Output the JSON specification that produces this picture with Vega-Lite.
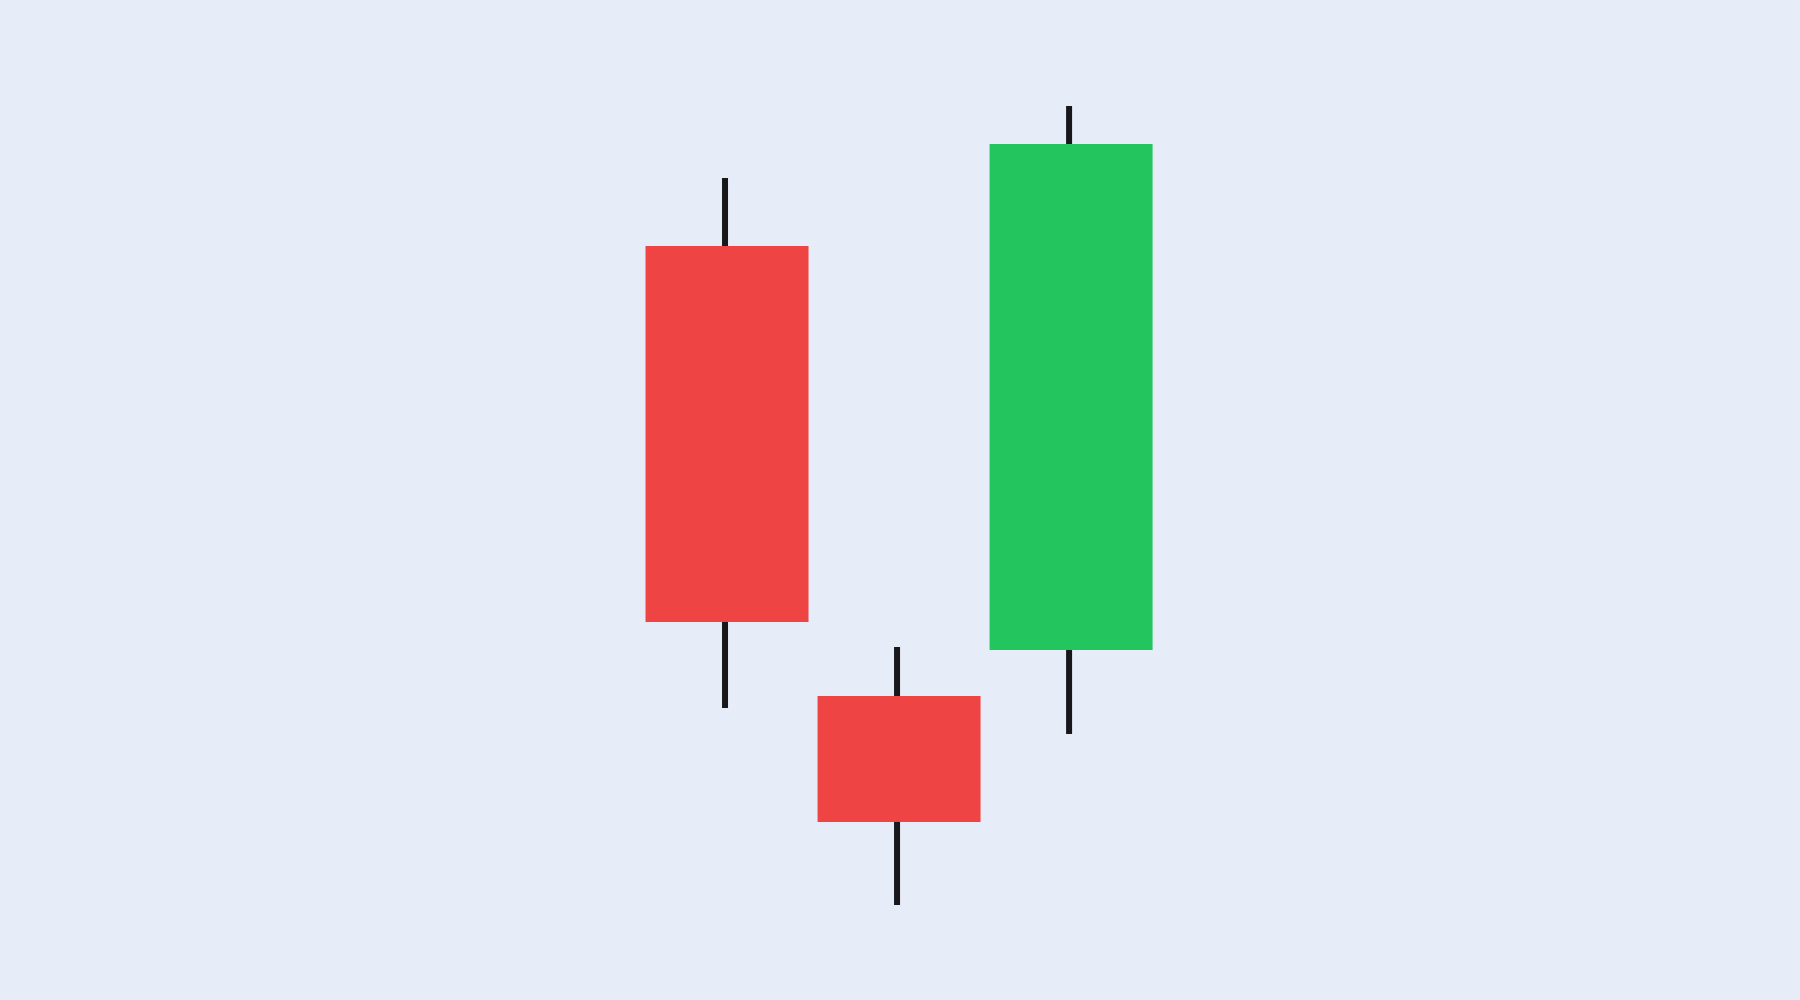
{
  "$schema": "https://vega.github.io/schema/vega-lite/v6.json",
  "autosize": {"type": "fit", "contains": "padding"},
  "width": 1800,
  "height": 1000,
  "padding": 0,
  "background": "#e7edf8",
  "config": {"view": {"stroke": null}},
  "data": {
    "values": [
      {"day": 1, "open": 75.4, "high": 82.2, "low": 29.2, "close": 37.8},
      {"day": 2, "open": 30.4, "high": 35.3, "low": 9.5, "close": 17.8},
      {"day": 3, "open": 35.0, "high": 89.4, "low": 26.6, "close": 85.6}
    ]
  },
  "encoding": {
    "x": {
      "field": "day",
      "type": "quantitative",
      "scale": {"domain": [-3.197, 7.208], "nice": false, "zero": false},
      "axis": null
    }
  },
  "layer": [
    {
      "mark": {"type": "rule", "strokeWidth": 6, "color": "#18181b", "xOffset": -2},
      "encoding": {
        "y": {
          "field": "low",
          "type": "quantitative",
          "scale": {"domain": [0, 100], "nice": false, "zero": false},
          "axis": null
        },
        "y2": {"field": "high"}
      }
    },
    {
      "mark": {"type": "bar", "width": 163},
      "encoding": {
        "y": {"field": "open", "type": "quantitative"},
        "y2": {"field": "close"},
        "color": {
          "condition": {"test": "datum.open < datum.close", "value": "#22c55e"},
          "value": "#ef4444"
        }
      }
    }
  ]
}
